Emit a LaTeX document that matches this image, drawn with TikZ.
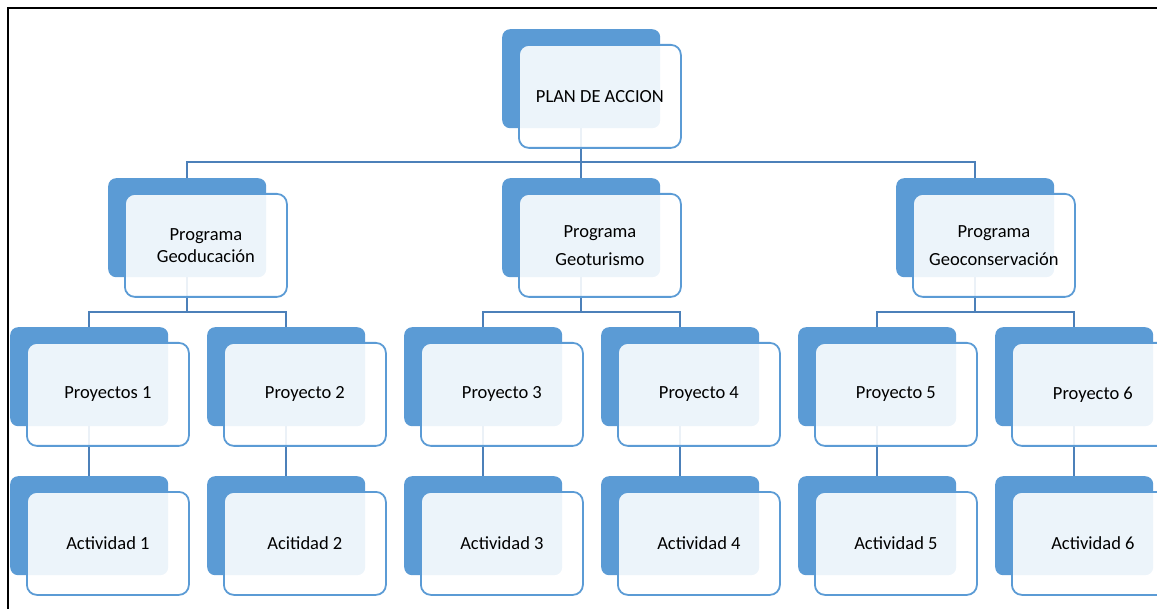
\documentclass[tikz,border=0pt]{standalone}
\usepackage{fontspec}
\setmainfont{Carlito}
\definecolor{darkbox}{RGB}{91,155,213}
\definecolor{edgebox}{RGB}{91,155,213}
\definecolor{linkcol}{RGB}{76,128,185}
\tikzset{
  back/.style={anchor=north west, fill=darkbox, draw=none, rounded corners=8pt,
    minimum width=158pt, minimum height=99pt, inner sep=0pt},
  front/.style={anchor=north west, fill=white, fill opacity=0.89, text opacity=1,
    draw=edgebox, line width=1.8pt, rounded corners=10pt,
    minimum width=162pt, minimum height=103pt, inner sep=0pt, align=center,
    font=\fontsize{18.5}{22}\selectfont},
  link/.style={draw=linkcol, line width=2.2pt},
  frame/.style={draw=black, line width=2pt}
}
\newcommand{\backbox}[3]{\node[back] (#1) at (#2,#3) {};}
\newcommand{\frontbox}[4]{\node[front] (#1) at ($(#2,#3)+(16,15)$) {#4};}
\usetikzlibrary{calc}
\begin{document}
\begin{tikzpicture}[x=1pt,y=-1pt]
\useasboundingbox (0,0) rectangle (1157,609);
\clip (0,0) rectangle (1157,609);
\draw[frame] (8,609) -- (8,8) -- (1157,8);
% dark back boxes
\backbox{d0}{502}{29}
\backbox{dA}{108}{178}
\backbox{dB}{502}{178}
\backbox{dC}{896}{178}
\backbox{p1}{10}{327}
\backbox{p2}{207}{327}
\backbox{p3}{404}{327}
\backbox{p4}{601}{327}
\backbox{p5}{798}{327}
\backbox{p6}{995}{327}
\backbox{a1}{10}{476}
\backbox{a2}{207}{476}
\backbox{a3}{404}{476}
\backbox{a4}{601}{476}
\backbox{a5}{798}{476}
\backbox{a6}{995}{476}
% connectors
\draw[link] (d0.south) -- ++(0,34) -| (dA.north);
\draw[link] (d0.south) -- ++(0,34) -| (dB.north);
\draw[link] (d0.south) -- ++(0,34) -| (dC.north);
\draw[link] (dA.south) -- ++(0,35) -| (p1.north);
\draw[link] (dA.south) -- ++(0,35) -| (p2.north);
\draw[link] (dB.south) -- ++(0,35) -| (p3.north);
\draw[link] (dB.south) -- ++(0,35) -| (p4.north);
\draw[link] (dC.south) -- ++(0,35) -| (p5.north);
\draw[link] (dC.south) -- ++(0,35) -| (p6.north);
\draw[link] (p1.south) -- (a1.north);
\draw[link] (p2.south) -- (a2.north);
\draw[link] (p3.south) -- (a3.north);
\draw[link] (p4.south) -- (a4.north);
\draw[link] (p5.south) -- (a5.north);
\draw[link] (p6.south) -- (a6.north);
% front boxes
\frontbox{f0}{502}{29}{PLAN DE ACCION}
\frontbox{fA}{108}{178}{Programa\\Geoducación}
\frontbox{fB}{502}{178}{Programa\\[6pt]Geoturismo}
\frontbox{fC}{896}{178}{Programa\\[6pt]Geoconservación}
\frontbox{q1}{10}{327}{Proyectos 1}
\frontbox{q2}{207}{327}{Proyecto 2}
\frontbox{q3}{404}{327}{Proyecto 3}
\frontbox{q4}{601}{327}{Proyecto 4}
\frontbox{q5}{798}{327}{Proyecto 5}
\frontbox{q6}{995}{327}{Proyecto 6}
\frontbox{b1}{10}{476}{Actividad 1}
\frontbox{b2}{207}{476}{Acitidad 2}
\frontbox{b3}{404}{476}{Actividad 3}
\frontbox{b4}{601}{476}{Actividad 4}
\frontbox{b5}{798}{476}{Actividad 5}
\frontbox{b6}{995}{476}{Actividad 6}
\end{tikzpicture}
\end{document}
